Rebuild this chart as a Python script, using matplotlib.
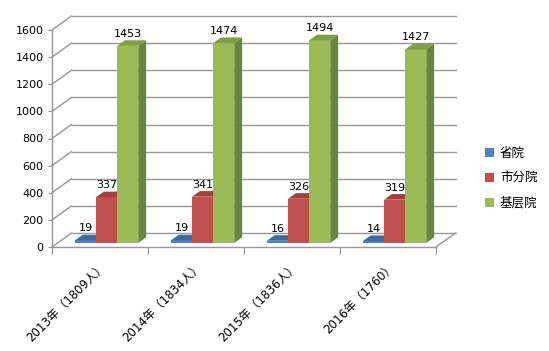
import matplotlib.pyplot as plt
from matplotlib.patches import Polygon, Patch

years = ["2013年（1809人）", "2014年（1834人）", "2015年（1836人）", "2016年（1760）"]
series = ["省院", "市分院", "基层院"]
sheng = [19, 19, 16, 14]
shifen = [337, 341, 326, 319]
jiceng = [1453, 1474, 1494, 1427]
yticks = list(range(0, 1601, 200))

front = ["#4F81BD", "#C0504D", "#9BBB59"]
side = ["#385D8A", "#8C3836", "#69853A"]
top = ["#3F6A9E", "#A0403D", "#7F9E46"]
grid = "#979797"

plt.rcParams["font.family"] = ["DejaVu Sans", "Noto Sans CJK SC"]

fig = plt.figure(figsize=(5.49, 3.51), dpi=100)
ax = fig.add_axes([52 / 549, 104 / 351, 384 / 549, 217 / 351])
ax.set_xlim(0, 4)
ax.set_ylim(0, 1600)

# depth of the walls in data units, and where the bars sit inside it
DX, DY = 19.5 / 96, 14 / 217 * 1600
d0, bd = 0.29, 0.40
w = 0.22

# back wall gridlines + side wall diagonals
for v in yticks:
    ax.plot([DX, 4 + DX], [v + DY, v + DY], color=grid, lw=1.0, clip_on=False, zorder=1)
    ax.plot([0, DX], [v, v + DY], color=grid, lw=1.0, clip_on=False, zorder=1)
ax.plot([4, 4 + DX], [0, DY], color=grid, lw=1.0, clip_on=False, zorder=1)

# bars
data = [sheng, shifen, jiceng]
sx, sy = d0 * DX, d0 * DY
bx, by = bd * DX, bd * DY
for i in range(len(years)):
    for s, vals in enumerate(data):
        v = vals[i]
        x0 = i + 0.5 - 1.5 * w + s * w + sx + 0.01
        y0 = sy
        z = 3 + i * 3 + s
        ax.bar(x0, v, bottom=y0, width=w, align="edge", color=front[s],
               linewidth=0, zorder=z, clip_on=False)
        ax.add_patch(Polygon([(x0 + w, y0), (x0 + w + bx, y0 + by),
                              (x0 + w + bx, y0 + v + by), (x0 + w, y0 + v)],
                             closed=True, facecolor=side[s], lw=0, zorder=z, clip_on=False))
        ax.add_patch(Polygon([(x0, y0 + v), (x0 + w, y0 + v),
                              (x0 + w + bx, y0 + v + by), (x0 + bx, y0 + v + by)],
                             closed=True, facecolor=top[s], lw=0, zorder=z, clip_on=False))
        ax.annotate(str(v), (x0 + w / 2, y0 + v + by), xytext=(0, 2.5),
                    textcoords="offset points", ha="center", va="baseline",
                    fontsize=8, zorder=20, annotation_clip=False)

for sp in ["top", "right"]:
    ax.spines[sp].set_visible(False)
for sp in ["left", "bottom"]:
    ax.spines[sp].set_color(grid)
    ax.spines[sp].set_linewidth(1.0)
    ax.spines[sp].set_zorder(2)

ax.set_yticks(yticks)
ax.tick_params(axis="y", length=3, color=grid, labelsize=8, pad=3)

ax.set_xticks([0, 1, 2, 3, 4])
ax.set_xticklabels([])
ax.tick_params(axis="x", which="major", length=5, color=grid)
ax.set_xticks([0.5, 1.5, 2.5, 3.5], minor=True)
ax.set_xticklabels(years, minor=True, rotation=45, ha="right",
                   rotation_mode="anchor", fontsize=8.5)
ax.tick_params(axis="x", which="minor", length=0, pad=9)

handles = [Patch(facecolor=c, edgecolor="none") for c in front]
fig.legend(handles, series, loc="upper left", bbox_to_anchor=(485 / 549, 1 - 147 / 351),
           frameon=False, handlelength=0.7, handleheight=0.7, handletextpad=0.5,
           labelspacing=0.95, borderpad=0, borderaxespad=0,
           prop={"family": "Noto Sans CJK SC", "size": 9})

fig.savefig("out.png", dpi=100)
